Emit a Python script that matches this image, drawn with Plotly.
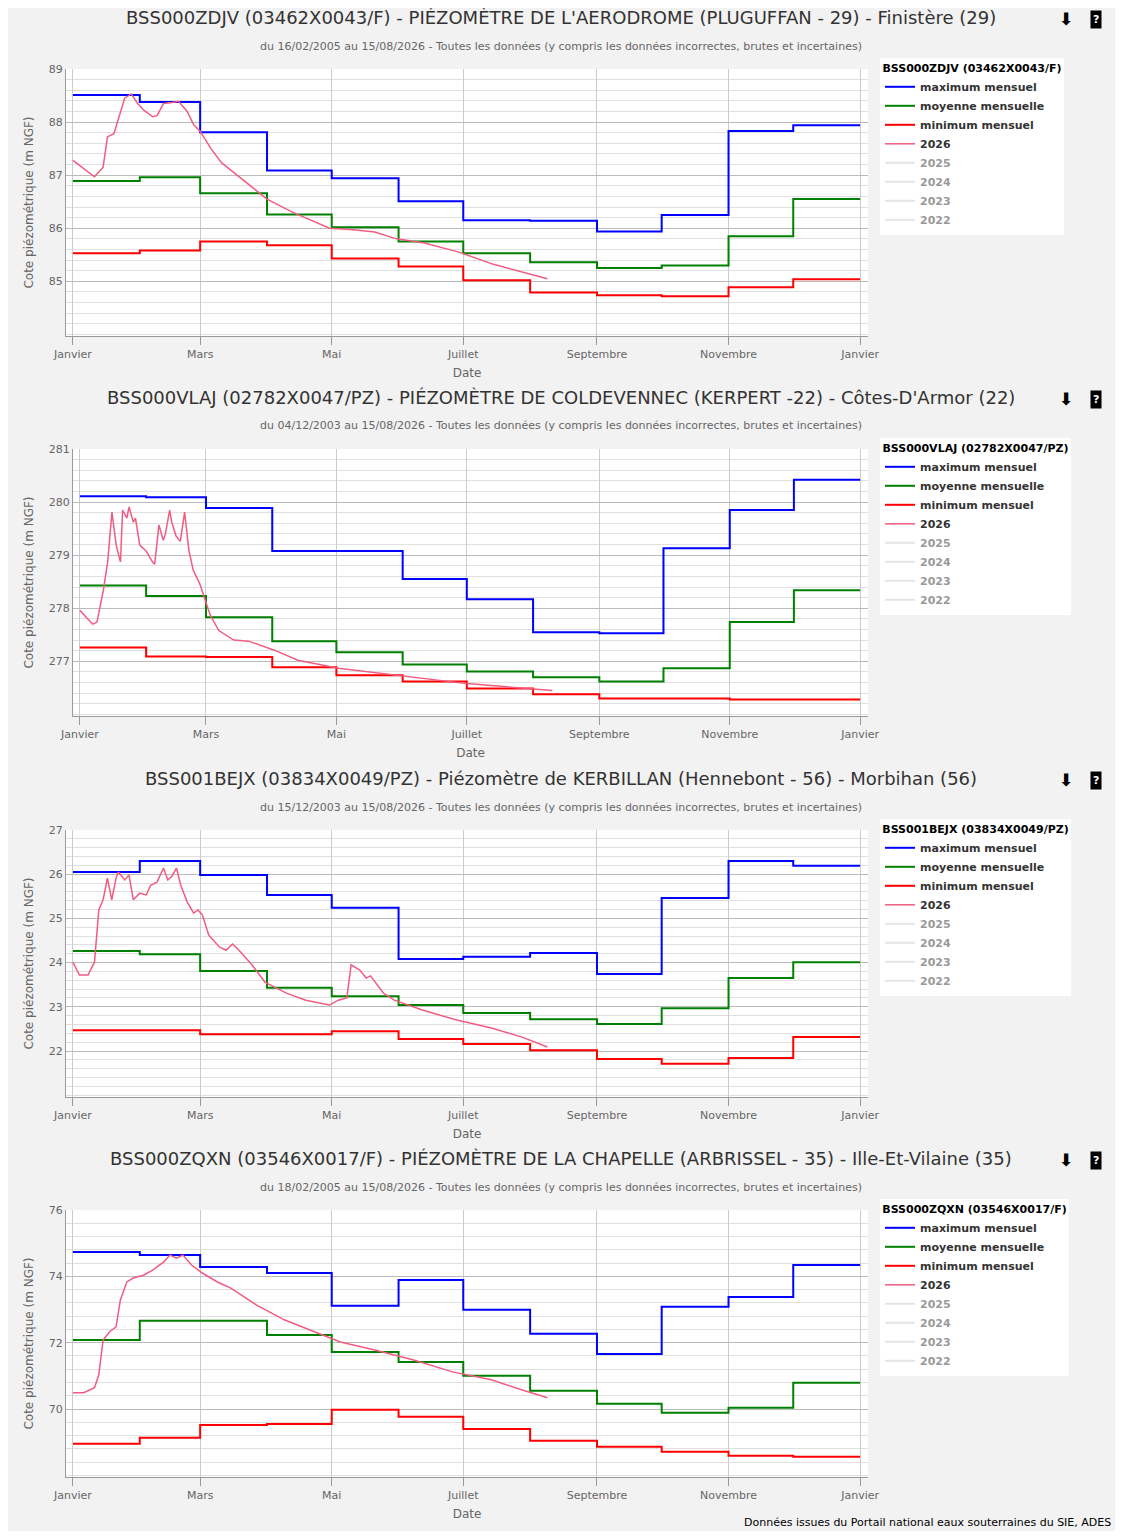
import pandas as pd
import plotly.graph_objects as go


# monthly statistics, January to December
months = pd.date_range('2026-01-01', '2027-01-01', freq='MS')

titles = [
    "BSS000ZDJV (03462X0043/F) - PIÉZOMÈTRE DE L'AERODROME (PLUGUFFAN - 29) - Finistère (29)",
    "BSS000VLAJ (02782X0047/PZ) - PIÉZOMÈTRE DE COLDEVENNEC (KERPERT -22) - Côtes-D'Armor (22)",
    "BSS001BEJX (03834X0049/PZ) - Piézomètre de KERBILLAN (Hennebont - 56) - Morbihan (56)",
    "BSS000ZQXN (03546X0017/F) - PIÉZOMÈTRE DE LA CHAPELLE (ARBRISSEL - 35) - Ille-Et-Vilaine (35)",
]
codes = ["BSS000ZDJV (03462X0043/F)", "BSS000VLAJ (02782X0047/PZ)",
         "BSS001BEJX (03834X0049/PZ)", "BSS000ZQXN (03546X0017/F)"]
periods = ["du 16/02/2005 au 15/08/2026", "du 04/12/2003 au 15/08/2026",
           "du 15/12/2003 au 15/08/2026", "du 18/02/2005 au 15/08/2026"]

max1 = [88.51, 88.38, 87.81, 87.09, 86.94, 86.51, 86.15, 86.14, 85.94, 86.25, 87.83, 87.94]
moy1 = [86.89, 86.96, 86.66, 86.26, 86.02, 85.75, 85.53, 85.36, 85.25, 85.30, 85.85, 86.55]
min1 = [85.53, 85.58, 85.75, 85.68, 85.43, 85.28, 85.02, 84.79, 84.74, 84.72, 84.89, 85.04]
day1 = [0, 10, 14, 16, 19, 21, 24, 27, 30, 33, 37, 39, 42, 46, 49, 53, 56, 59, 64, 69, 81,
        90, 102, 119, 130, 140, 150, 163, 179, 195, 220]
lvl1 = [87.28, 86.97, 87.15, 87.72, 87.78, 88.05, 88.45, 88.53, 88.35, 88.22, 88.10, 88.12,
        88.35, 88.37, 88.39, 88.20, 87.95, 87.83, 87.50, 87.23, 86.85, 86.55, 86.30, 86.00,
        85.97, 85.93, 85.80, 85.72, 85.55, 85.32, 85.05]

max2 = [280.11, 280.09, 279.89, 279.08, 279.08, 278.55, 278.17, 277.55, 277.53, 279.13, 279.85, 280.42]
moy2 = [278.43, 278.23, 277.83, 277.38, 277.17, 276.94, 276.81, 276.70, 276.62, 276.87, 277.74, 278.34]
min2 = [277.26, 277.09, 277.08, 276.89, 276.74, 276.62, 276.49, 276.38, 276.30, 276.30, 276.28, 276.28]
day2 = [0, 6, 8, 11, 13, 15, 17, 19, 20, 22, 23, 25, 26, 28, 31, 34, 35, 37, 39, 40, 42, 43,
        45, 47, 49, 51, 53, 56, 61, 65, 72, 79, 91, 102, 121, 149, 181, 221]
lvl2 = [277.96, 277.70, 277.74, 278.34, 278.87, 279.81, 279.19, 278.87, 279.85, 279.70, 279.91,
        279.62, 279.70, 279.19, 279.08, 278.87, 278.83, 279.57, 279.28, 279.40, 279.85, 279.62,
        279.36, 279.26, 279.81, 279.09, 278.72, 278.47, 277.87, 277.58, 277.40, 277.38, 277.21,
        277.02, 276.87, 276.74, 276.58, 276.45]

max3 = [26.05, 26.30, 25.98, 25.53, 25.24, 24.08, 24.13, 24.22, 23.74, 25.46, 26.30, 26.19]
moy3 = [24.26, 24.19, 23.81, 23.43, 23.24, 23.04, 22.86, 22.72, 22.61, 22.97, 23.65, 24.01]
min3 = [22.47, 22.47, 22.38, 22.38, 22.45, 22.27, 22.16, 22.02, 21.82, 21.71, 21.84, 22.32]
day3 = [0, 3, 7, 10, 12, 14, 16, 18, 20, 21, 24, 26, 28, 31, 34, 36, 39, 41, 42, 44, 46, 48,
        50, 53, 56, 58, 60, 63, 68, 71, 74, 77, 83, 89, 99, 108, 119, 123, 127, 129, 133, 136,
        138, 144, 149, 162, 178, 194, 208, 220]
lvl3 = [24.01, 23.72, 23.72, 24.01, 25.19, 25.42, 25.91, 25.42, 25.91, 26.05, 25.87, 25.98,
        25.42, 25.57, 25.53, 25.75, 25.82, 26.05, 26.14, 25.87, 25.96, 26.14, 25.75, 25.37,
        25.12, 25.19, 25.08, 24.62, 24.35, 24.28, 24.42, 24.28, 23.95, 23.56, 23.31, 23.15,
        23.04, 23.15, 23.20, 23.95, 23.83, 23.65, 23.70, 23.31, 23.15, 22.93, 22.70, 22.52,
        22.32, 22.09]

max4 = [74.73, 74.64, 74.28, 74.10, 73.11, 73.89, 72.99, 72.27, 71.66, 73.08, 73.38, 74.34]
moy4 = [72.08, 72.66, 72.66, 72.23, 71.72, 71.42, 71.00, 70.55, 70.16, 69.89, 70.04, 70.79]
min4 = [68.95, 69.13, 69.52, 69.55, 69.98, 69.77, 69.40, 69.04, 68.86, 68.71, 68.59, 68.56]
day4 = [0, 5, 10, 12, 14, 17, 20, 22, 25, 28, 33, 37, 42, 45, 48, 51, 55, 60, 67, 73, 85, 98,
        112, 124, 140, 158, 176, 194, 208, 220]
lvl4 = [70.49, 70.49, 70.64, 71.03, 72.08, 72.33, 72.48, 73.29, 73.83, 73.95, 74.04, 74.19,
        74.43, 74.64, 74.55, 74.64, 74.34, 74.10, 73.83, 73.65, 73.14, 72.69, 72.33, 72.02,
        71.78, 71.48, 71.12, 70.88, 70.58, 70.34]

panels = [
    (max1, moy1, min1, day1, lvl1, [83.97, 89], 0.2, [85, 86, 87, 88, 89]),
    (max2, moy2, min2, day2, lvl2, [275.97, 281], 0.2, [277, 278, 279, 280, 281]),
    (max3, moy3, min3, day3, lvl3, [20.96, 27], 0.2, [22, 23, 24, 25, 26, 27]),
    (max4, moy4, min4, day4, lvl4, [67.95, 76], 0.4, [70, 72, 74, 76]),
]

tick_dates = pd.date_range('2026-01-01', '2027-01-01', freq='2MS')
tick_text = ['Janvier', 'Mars', 'Mai', 'Juillet', 'Septembre', 'Novembre', 'Janvier']

# the page body adds an 8 px margin, so the figure is drawn 8 px in
OFF = 8
W = 1123 - 2 * OFF
H = 1539 - 2 * OFF
plot_tops = [69, 449, 830, 1210]
plot_lefts = [66, 73, 66, 66]
FONT = 'DejaVu Sans'


def px(x):
    return (x - OFF) / W


def py(y):
    return 1 - (y - OFF) / H


fig = go.Figure()
for i, (mx, my, mn, days, lvls, yr, minor, yt) in enumerate(panels):
    n = '' if i == 0 else str(i + 1)
    top = plot_tops[i]
    leg = 'legend' + n
    for name, vals, col in [('maximum mensuel', mx, 'blue'), ('moyenne mensuelle', my, 'green'),
                            ('minimum mensuel', mn, 'red')]:
        fig.add_trace(go.Scatter(x=months, y=vals + [vals[-1]], mode='lines', name=name,
                                 line=dict(color=col, width=2, shape='hv'),
                                 xaxis='x' + n, yaxis='y' + n, legend=leg))
    dates = pd.Timestamp('2026-01-01') + pd.to_timedelta(days, unit='D')
    fig.add_trace(go.Scatter(x=dates, y=lvls, mode='lines', name='2026',
                             line=dict(color='#f15c80', width=1.5),
                             xaxis='x' + n, yaxis='y' + n, legend=leg))
    for yr_name in ['2025', '2024', '2023', '2022']:
        fig.add_trace(go.Scatter(x=[None], y=[None], mode='lines', name=yr_name,
                                 line=dict(color='#cccccc', width=2), visible='legendonly',
                                 xaxis='x' + n, yaxis='y' + n, legend=leg))

    fig.update_layout(**{
        'xaxis' + n: dict(domain=[px(plot_lefts[i]), px(868)], anchor='y' + n,
                          range=['2025-12-28 19:00', '2027-01-04 16:00'],
                          tickvals=tick_dates, ticktext=tick_text, ticks='outside',
                          ticklen=8, tickcolor='#999', showline=True, linecolor='#999',
                          showgrid=True, gridcolor='#cccccc', automargin=False,
                          tickfont=dict(size=11, color='#666'),
                          title=dict(text='Date', font=dict(size=12, color='#666'), standoff=8)),
        'yaxis' + n: dict(domain=[py(top + 267), py(top)], anchor='x' + n, range=yr, tickvals=yt,
                          showline=True, linecolor='#999', gridcolor='#bbbbbb', automargin=False,
                          minor=dict(dtick=minor, showgrid=True, gridcolor='#e0e0e0', tick0=0),
                          zeroline=False, tickfont=dict(size=11, color='#666'),
                          title=dict(text='Cote piézométrique (m NGF)',
                                     font=dict(size=12, color='#666'), standoff=12)),
        leg: dict(x=px(880), y=py(top - 11), xanchor='left', yanchor='top',
                  bgcolor='white', borderwidth=0, tracegroupgap=0,
                  title=dict(text='<b>' + codes[i] + '</b>', font=dict(size=11, color='black'),
                             side='top center'),
                  font=dict(size=11, color='#333', weight='bold'), itemwidth=30,
                  entrywidth=200),
    })
    fig.add_annotation(text=titles[i], x=px(561), y=py(top - 52), xref='paper', yref='paper',
                       showarrow=False, font=dict(size=18, color='#333'),
                       xanchor='center', yanchor='middle')
    fig.add_annotation(text=periods[i] + ' - Toutes les données (y compris les données incorrectes, brutes et incertaines)',
                       x=px(561), y=py(top - 23), xref='paper', yref='paper',
                       showarrow=False, font=dict(size=11, color='#666'),
                       xanchor='center', yanchor='middle')
    fig.add_annotation(text='<b>⬇</b>', x=px(1075), y=py(top - 50), xref='paper', yref='paper',
                       showarrow=False, font=dict(size=17, color='black'), yanchor='middle')
    fig.add_annotation(text='<b>?</b>', x=px(1102), y=py(top - 50), xref='paper', yref='paper',
                       showarrow=False, font=dict(size=11, color='white'), bgcolor='black',
                       borderpad=2, yanchor='middle')

fig.add_annotation(text='Données issues du Portail national eaux souterraines du SIE, ADES',
                   x=px(1113), y=py(1522), xref='paper', yref='paper', xanchor='right',
                   yanchor='middle', showarrow=False, font=dict(size=11, color='black'))

fig.update_layout(width=W, height=H, margin=dict(l=0, r=0, t=0, b=0, autoexpand=False),
                  paper_bgcolor='#f2f2f2', plot_bgcolor='white',
                  font=dict(family=FONT), showlegend=True)

fig.write_html('out.html')
